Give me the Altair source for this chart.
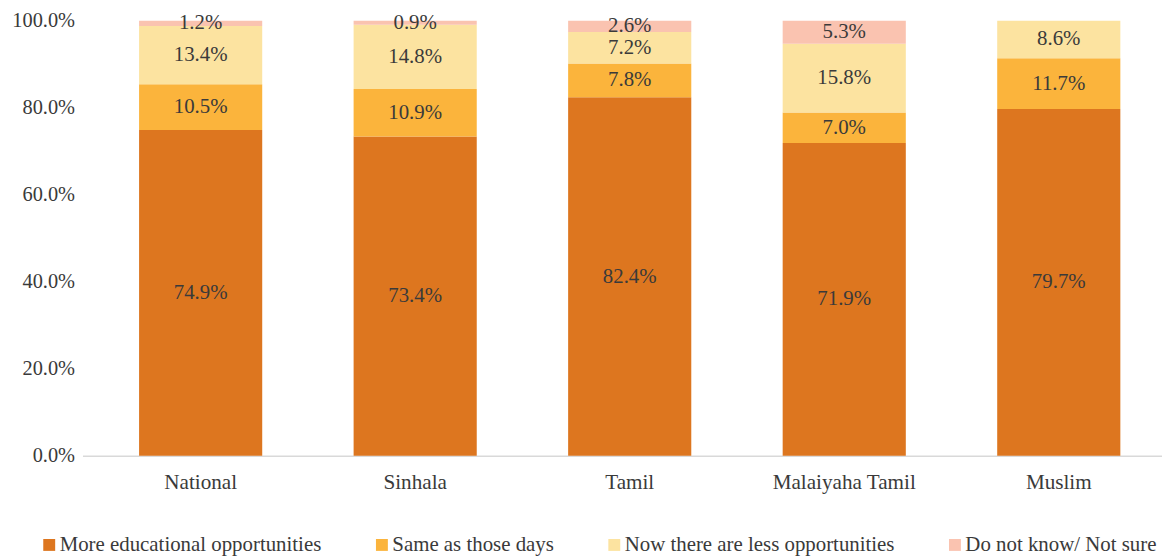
import altair as alt
import pandas as pd

categories = ["National", "Sinhala", "Tamil", "Malaiyaha Tamil", "Muslim"]
series = ["More educational opportunities", "Same as those days",
          "Now there are less opportunities", "Do not know/ Not sure"]
colors = ["#DD761F", "#FBB43C", "#FCE3A0", "#FAC3B0"]

more = [74.9, 73.4, 82.4, 71.9, 79.7]
same = [10.5, 10.9, 7.8, 7.0, 11.7]
less = [13.4, 14.8, 7.2, 15.8, 8.6]
dunno = [1.2, 0.9, 2.6, 5.3, None]

rows = []
for i, c in enumerate(categories):
    for j, vals in enumerate([more, same, less, dunno]):
        v = vals[i]
        if v is None:
            continue
        rows.append({"cat": c, "series": series[j], "idx": j, "val": v})
df = pd.DataFrame(rows)

FONT = "Liberation Serif"
TXT = "#3A3A3A"

base = alt.Chart(df).transform_stack(
    stack="val", groupby=["cat"], as_=["y0", "y1"],
    sort=[alt.SortField("idx", order="ascending")]
).transform_calculate(
    mid="(datum.y0 + datum.y1) / 2",
    label="format(datum.val, '.1f') + '%'"
)

x = alt.X("cat:N", sort=categories, title=None,
          scale=alt.Scale(paddingInner=0.426, paddingOuter=0.229, align=0.576),
          axis=alt.Axis(labelAngle=0, labelFont=FONT, labelFontSize=21.3,
                        labelColor=TXT, labelPadding=16, ticks=False,
                        domainColor="#D9D9D9", domainWidth=1.5))

bars = base.mark_bar().encode(
    x=x,
    y=alt.Y("y0:Q", title=None,
            scale=alt.Scale(domain=[0, 100], nice=False),
            axis=alt.Axis(values=[0, 20, 40, 60, 80, 100], grid=False,
                          domain=False, ticks=False, labelPadding=8,
                          labelExpr="format(datum.value, '.1f') + '%'",
                          labelFont=FONT, labelFontSize=20.5,
                          labelColor=TXT)),
    y2="y1:Q",
    color=alt.Color("series:N", sort=series,
                    scale=alt.Scale(domain=series, range=colors),
                    legend=alt.Legend(title=None, orient="none",
                                      direction="horizontal",
                                      legendX=-44, legendY=517,
                                      symbolType="square", symbolSize=144,
                                      symbolStrokeWidth=0, symbolOffset=0,
                                      labelFont=FONT, labelFontSize=21,
                                      labelColor=TXT, labelOffset=0,
                                      columnPadding=50, labelLimit=400)),
)

text = base.mark_text(font=FONT, fontSize=21, color=TXT,
                      baseline="middle").encode(
    x=alt.X("cat:N", sort=categories),
    y=alt.Y("mid:Q"),
    text="label:N",
)

chart = alt.layer(bars, text).properties(
    width=1087, height=438,
    padding={"left": 75, "top": 11, "right": 0, "bottom": 100},
    autosize=alt.AutoSizeParams(type="none"),
).configure_view(stroke=None)

chart.save("out.html", embed_options={"renderer": "svg", "actions": False})
